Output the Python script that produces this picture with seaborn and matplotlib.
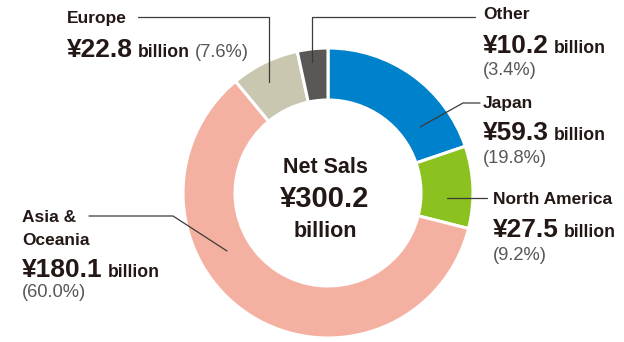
import matplotlib
matplotlib.use("Agg")
import matplotlib.pyplot as plt
import seaborn as sns

# Net sales by region (¥ billion), clockwise from 12 o'clock
regions = ["Japan", "North America", "Asia &\nOceania", "Europe", "Other"]
sales = [59.3, 27.5, 180.1, 22.8, 10.2]
shares = [19.8, 9.2, 60.0, 7.6, 3.4]
total_sales = 300.2
slice_colors = ["#0081CC", "#8CC21F", "#F4B1A2", "#C9C7AF", "#595856"]

sns.set_theme(style="white")
plt.rcParams["font.family"] = ["Liberation Sans", "DejaVu Sans"]

INK = "#231815"
GREY = "#595757"
LINE = "#3e3a39"

W, H = 624, 342
fig = plt.figure(figsize=(W / 100, H / 100), dpi=100)

# donut: centre (328, 193) px, outer radius 145 px
cx, cy, R = 328, 193, 145
pie_ax = fig.add_axes([(cx - R) / W, (H - cy - R) / H, 2 * R / W, 2 * R / H])
palette = sns.color_palette(slice_colors)
pie_ax.pie(sales, colors=palette, startangle=90, counterclock=False,
           radius=1.0,
           wedgeprops=dict(width=52 / R, edgecolor="white", linewidth=2.2))
pie_ax.set_aspect("equal")
pie_ax.set_xlim(-1, 1)
pie_ax.set_ylim(-1, 1)
pie_ax.axis("off")

# overlay in pixel units for labels and leader lines
ov = fig.add_axes([0, 0, 1, 1])
ov.set_xlim(0, W)
ov.set_ylim(H, 0)
ov.axis("off")

renderer = fig.canvas.get_renderer()


def run(x, y, parts, gap=5):
    for txt, kw in parts:
        t = ov.text(x, y, txt, ha="left", va="baseline", **kw)
        bb = t.get_window_extent(renderer)
        x += bb.width + gap


NAME = dict(fontsize=12.5, fontweight="bold", color=INK)
BIG = dict(fontsize=19, fontweight="bold", color=INK)
UNIT = dict(fontsize=12.7, fontweight="bold", color=INK)
PCT = dict(fontsize=13.2, color=GREY)


def label(i, x, y_name, y_val, y_pct=None, name_gap=23):
    lines = regions[i].split("\n")
    for k, ln in enumerate(lines):
        ov.text(x, y_name + k * name_gap, ln, ha="left", va="baseline", **NAME)
    parts = [(f"¥{sales[i]:.1f}", BIG), ("billion", UNIT)]
    if y_pct is None:
        parts.append((f"({shares[i]:.1f}%)", PCT))
        run(x, y_val, parts)
    else:
        run(x, y_val, parts)
        ov.text(x, y_pct, f"({shares[i]:.1f}%)", ha="left", va="baseline", **PCT)


label(3, 67, 23, 57)                 # Europe
label(4, 483, 19, 53, 75)            # Other
label(0, 483, 108, 140, 163)         # Japan
label(1, 493, 204, 237, 260)         # North America
label(2, 22, 222, 277, 297)          # Asia & Oceania

# leader lines
lw = 0.9
ov.plot([138, 269, 269], [17, 17, 82], color=LINE, lw=lw)
ov.plot([475, 312, 312], [17, 17, 62], color=LINE, lw=lw)
ov.plot([480, 463, 420], [103, 103, 127], color=LINE, lw=lw)
ov.plot([487, 447], [198, 198], color=LINE, lw=lw)
ov.plot([89, 173, 227], [216, 216, 251], color=LINE, lw=lw)

# centre caption
tx = cx - 3
ov.text(tx, 173, "Net Sals", ha="center", va="baseline",
        fontsize=15.5, fontweight="bold", color=INK)
ov.text(tx, 207, f"¥{total_sales:.1f}", ha="center", va="baseline",
        fontsize=21, fontweight="bold", color=INK)
ov.text(tx, 237, "billion", ha="center", va="baseline",
        fontsize=15.5, fontweight="bold", color=INK)

fig.savefig("out.png", dpi=100, facecolor="white")
